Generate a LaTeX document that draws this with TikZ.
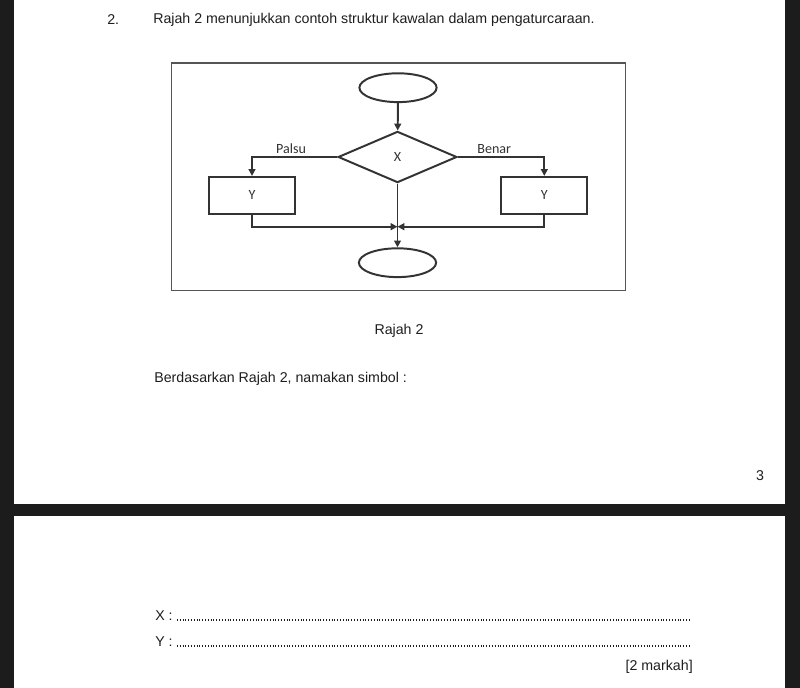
\documentclass[tikz,border=0pt]{standalone}
\usepackage{fontspec}
\setmainfont{Liberation Sans}
\newfontfamily\chartfont{Carlito}
\usetikzlibrary{arrows.meta,positioning,shapes.geometric,calc}
\definecolor{screen}{HTML}{1C1C1C}
\definecolor{ink}{HTML}{1E1E1E}
\definecolor{flowink}{HTML}{333333}
\definecolor{framegray}{HTML}{555555}
\tikzset{
  terminal/.style={draw=flowink,ellipse,line width=1.4pt,
                   minimum width=1.93cm,minimum height=0.72cm,inner sep=0pt},
  decision/.style={draw=flowink,diamond,line width=1.4pt,aspect=2.3,
                   minimum width=2.97cm,minimum height=1.28cm,inner sep=0pt,
                   font=\chartfont\fontsize{10}{12}\selectfont,text=flowink},
  process/.style={draw=flowink,line width=1.4pt,
                  minimum width=2.15cm,minimum height=0.92cm,inner sep=0pt,
                  font=\chartfont\fontsize{10}{12}\selectfont,text=flowink},
  flowarr/.style={-{Triangle[length=1.7mm,width=1.7mm]},line width=1.4pt,draw=flowink},
  flowlbl/.style={font=\chartfont\fontsize{10}{12}\selectfont,text=flowink,inner sep=2pt},
  pagetext/.style={font=\fontsize{10.1}{12}\selectfont,text=ink,inner sep=0pt},
  dotline/.style={line width=0.8pt,draw=ink,dash pattern=on 0.7pt off 1.3pt}
}
\begin{document}
\begin{tikzpicture}[x=0.025cm,y=-0.025cm,>=Latex]
  \useasboundingbox (0,0) rectangle (800,688);
  % screen and the two pages
  \fill[screen] (0,0) rectangle (800,688);
  \fill[white] (14,0) rectangle (785,504);
  \fill[white] (14,516) rectangle (785,688);
  % question text
  \node[pagetext,anchor=west] (qnum) at (107,20) {2.};
  \node[pagetext,anchor=west] (qtitle) at (153,20)
    {Rajah 2 menunjukkan contoh struktur kawalan dalam pengaturcaraan.};
  % figure frame
  \draw[framegray,line width=0.8pt] (171.7,63) rectangle (625.7,290.7);
  % flowchart
  \node[terminal] (start) at (398,87.7) {};
  \node[decision] (test) at (397.5,157) {X};
  \node[process] (yleft) at (252,195.3) {Y};
  \node[process] (yright) at (544.3,195.3) {Y};
  \coordinate (join) at (397.5,226.7);
  \node[terminal] (stop) at (397.5,262.7) {};
  \draw[flowarr] (start) -- (test);
  \draw[flowarr] (test.west) -| node[flowlbl,above,pos=0.27] (lfalse) {Palsu} (yleft.north);
  \draw[flowarr] (test.east) -| node[flowlbl,above,pos=0.21] (ltrue) {Benar} (yright.north);
  \draw[flowarr] (yleft.south) |- (join);
  \draw[flowarr] (yright.south) |- (join);
  \draw[flowarr] (test.south) -- (stop.north);
  % caption and question
  \node[pagetext] (caption) at (399,331) {Rajah 2};
  \node[pagetext,anchor=west] (ask) at (154,379) {Berdasarkan Rajah 2, namakan simbol :};
  \node[pagetext] (pagenum) at (760,476) {3};
  % answer lines
  \node[pagetext,anchor=base west] (ansx) at (155,620) {X :};
  \node[pagetext,anchor=base west] (ansy) at (155,646) {Y :};
  \coordinate (xend) at (690,620);
  \coordinate (yend) at (690,646);
  \draw[dotline] ($(ansx.base east)+(4,0)$) -- (xend);
  \draw[dotline] ($(ansy.base east)+(4,0)$) -- (yend);
  \node[pagetext,anchor=east] (marks) at (693,667) {[2 markah]};
\end{tikzpicture}
\end{document}
